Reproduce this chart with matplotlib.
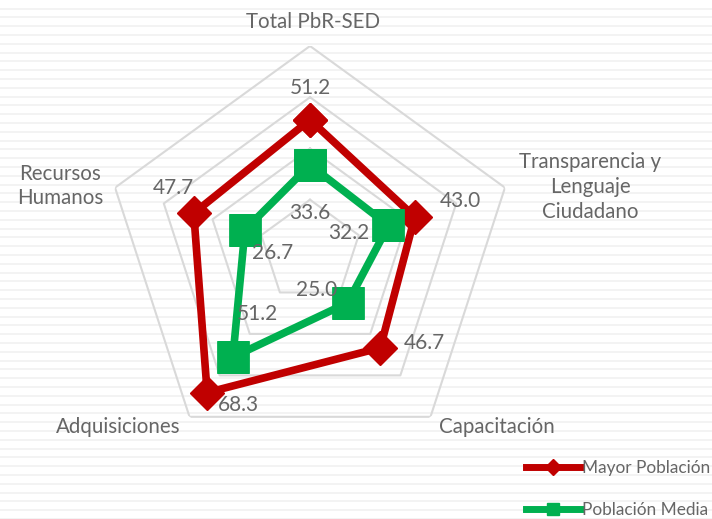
import numpy as np
import matplotlib.pyplot as plt
from matplotlib.lines import Line2D

categorias = ["Total PbR-SED", "Transparencia y\nLenguaje\nCiudadano", "Capacitación",
              "Adquisiciones", "Recursos\nHumanos"]
mayor = [51.2, 43.0, 46.7, 68.3, 47.7]
media = [33.6, 32.2, 25.0, 51.2, 26.7]
anillos = [20, 40, 60, 80]

rojo = "#C00000"
verde = "#00B050"
gris = "#666666"
plt.rcParams["font.family"] = ["Lato", "DejaVu Sans"]

fig = plt.figure(figsize=(7.12, 5.19), dpi=100)

# fondo con rayas horizontales tenues
bg = fig.add_axes([0, 0, 1, 1])
bg.set_xlim(0, 712)
bg.set_ylim(519, 0)
bg.hlines(np.arange(8.5, 519, 8.8), 0, 712, color="#F2F2F2", lw=1.3)
bg.axis("off")

ax = fig.add_axes([0.4354 - 0.2879, 0.5164 - 0.395, 0.5758, 0.790], projection="polar")
ax.set_theta_offset(np.pi / 2)
ax.set_theta_direction(-1)
ax.set_ylim(0, 80)
ax.patch.set_alpha(0)
ax.spines["polar"].set_visible(False)
ax.grid(False)
ax.set_xticks([])
ax.set_yticks([])

ang = np.linspace(0, 2 * np.pi, len(categorias), endpoint=False)
ang_c = np.append(ang, ang[0])

for r in anillos:
    ax.plot(ang_c, [r] * len(ang_c), color="#D9D9D9", lw=1.5, zorder=1)

ax.plot(ang_c, mayor + mayor[:1], color=rojo, lw=5.5, marker="D", ms=17,
        solid_joinstyle="miter", zorder=3)
ax.plot(ang_c, media + media[:1], color=verde, lw=5.5, marker="s", ms=21,
        mew=2, zorder=4)

off_mayor = [(0, 32), (46, 16), (44, 5), (31, -12), (-20, 25)]
off_media = [(0, -48), (-40, -8), (-31, 13), (25, 43), (28, -23)]
for a, v, o in zip(ang, mayor, off_mayor):
    ax.annotate(f"{v:.1f}", (a, v), xytext=o, textcoords="offset pixels",
                ha="center", va="center", fontsize=15, color=gris, zorder=5)
for a, v, o in zip(ang, media, off_media):
    ax.annotate(f"{v:.1f}", (a, v), xytext=o, textcoords="offset pixels",
                ha="center", va="center", fontsize=15, color=gris, zorder=5)

pos_cat = [(313, 22), (590, 187), (497, 427), (118, 427), (60, 186)]
for c, (x, y) in zip(categorias, pos_cat):
    fig.text(x / 712, 1 - y / 519, c, ha="center", va="center", fontsize=14.8,
             color=gris, linespacing=1.3)

handles = [Line2D([], [], color=rojo, lw=5, marker="D", ms=8),
           Line2D([], [], color=verde, lw=5, marker="s", ms=9)]
fig.legend(handles, ["Mayor Población", "Población Media"], loc="lower right",
           bbox_to_anchor=(1.02, -0.028), frameon=False, fontsize=12.4,
           labelcolor=gris, handlelength=3.2, handletextpad=0.1,
           labelspacing=1.5)

fig.savefig("out.png", dpi=100)
